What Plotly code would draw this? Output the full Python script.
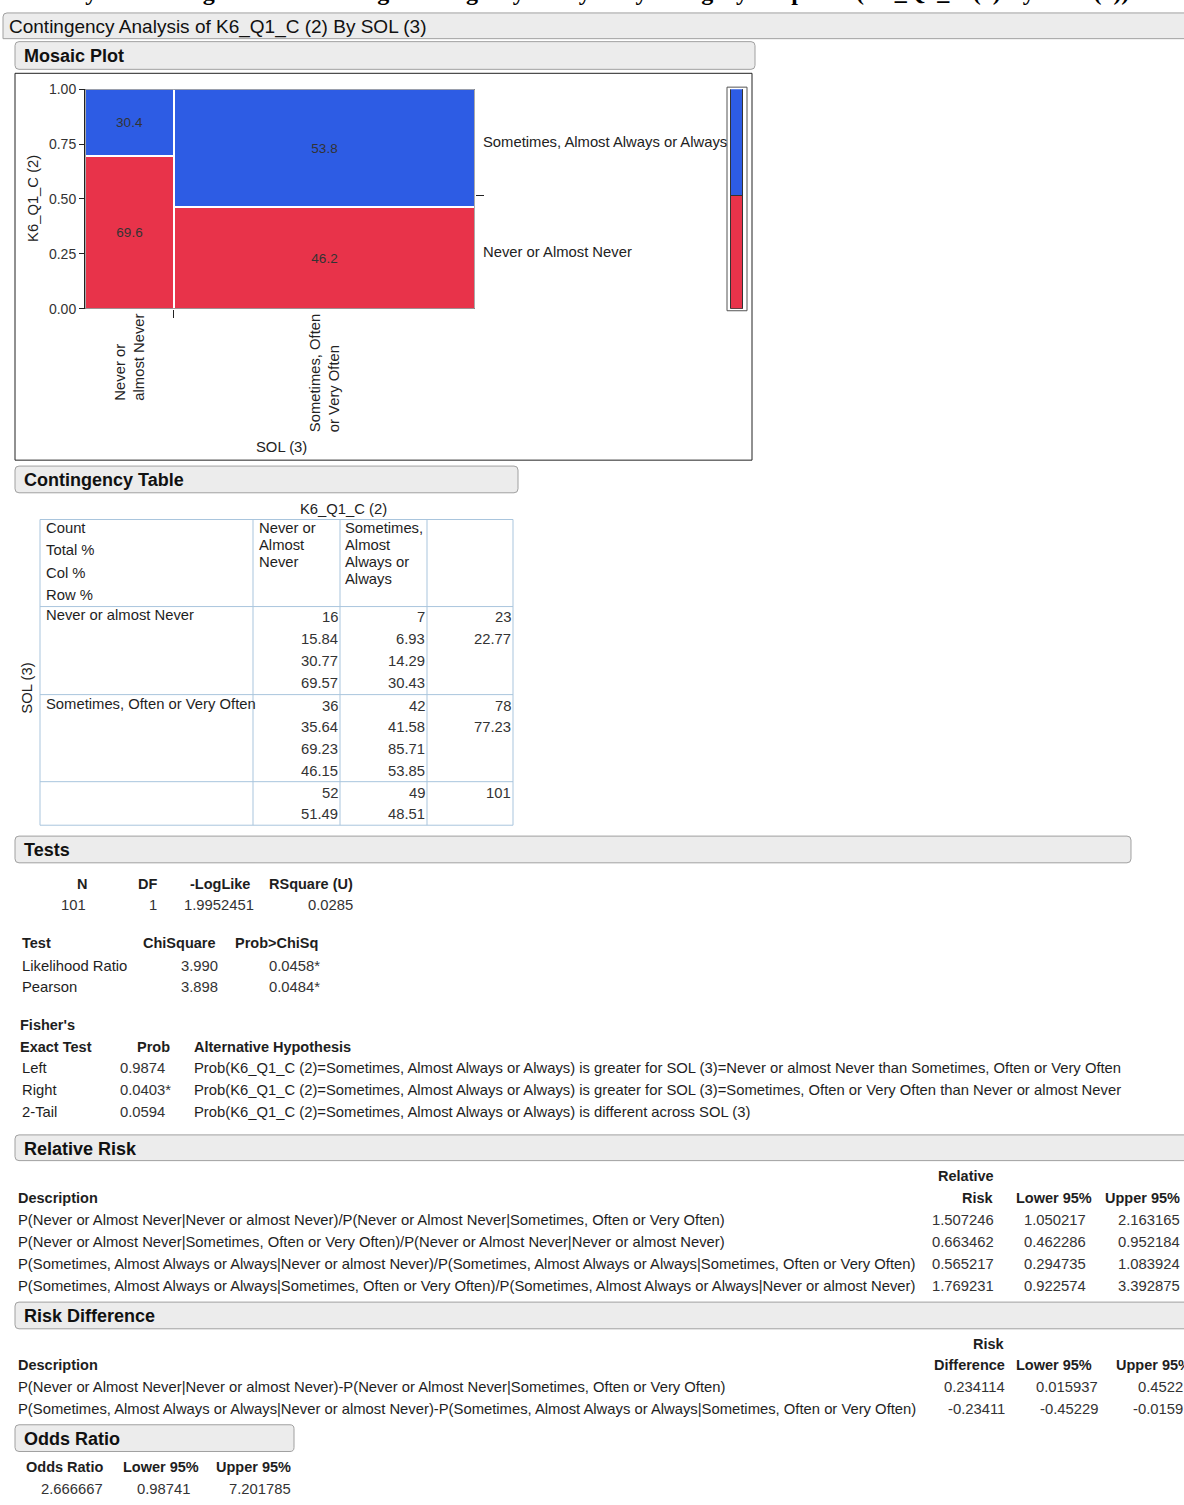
import plotly.graph_objects as go

W, H = 1184, 1505
FONT = "Liberation Sans, Arial, sans-serif"
SERIF = "Liberation Serif, Times New Roman, serif"

# ---------------- data ----------------
sol_levels = ["Never or almost Never", "Sometimes, Often or Very Often"]
sol_axis_labels = ["Never or<br>almost Never", "Sometimes, Often<br>or Very Often"]
k6_levels = ["Never or Almost Never", "Sometimes, Almost Always or Always"]
k6_header_lines = [["Never or", "Almost", "Never"], ["Sometimes,", "Almost", "Always or", "Always"]]
sol_totals = [23, 78]
mosaic_never_pct = [69.6, 46.2]
mosaic_some_pct = [30.4, 53.8]
k6_margin_pct = [51.49, 48.51]

counts = [[16, 7], [36, 42]]
total_pct = [["15.84", "6.93"], ["35.64", "41.58"]]
col_pct = [["30.77", "14.29"], ["69.23", "85.71"]]
row_pct = [["69.57", "30.43"], ["46.15", "53.85"]]
row_totals = [23, 78]
row_total_pct = ["22.77", "77.23"]
col_totals = [52, 49]
col_total_pct = ["51.49", "48.51"]
grand_total = 101

tests_hdr = ["N", "DF", "-LogLike", "RSquare (U)"]
tests_vals = ["101", "1", "1.9952451", "0.0285"]
chi_tests = ["Likelihood Ratio", "Pearson"]
chi_sq = ["3.990", "3.898"]
chi_p = ["0.0458*", "0.0484*"]
fisher_names = ["Left", "Right", "2-Tail"]
fisher_p = ["0.9874", "0.0403*", "0.0594"]
fisher_alt = [
    "Prob(K6_Q1_C (2)=Sometimes, Almost Always or Always) is greater for SOL (3)=Never or almost Never than Sometimes, Often or Very Often",
    "Prob(K6_Q1_C (2)=Sometimes, Almost Always or Always) is greater for SOL (3)=Sometimes, Often or Very Often than Never or almost Never",
    "Prob(K6_Q1_C (2)=Sometimes, Almost Always or Always) is different across SOL (3)",
]
rr_desc = [
    "P(Never or Almost Never|Never or almost Never)/P(Never or Almost Never|Sometimes, Often or Very Often)",
    "P(Never or Almost Never|Sometimes, Often or Very Often)/P(Never or Almost Never|Never or almost Never)",
    "P(Sometimes, Almost Always or Always|Never or almost Never)/P(Sometimes, Almost Always or Always|Sometimes, Often or Very Often)",
    "P(Sometimes, Almost Always or Always|Sometimes, Often or Very Often)/P(Sometimes, Almost Always or Always|Never or almost Never)",
]
rr_val = ["1.507246", "0.663462", "0.565217", "1.769231"]
rr_low = ["1.050217", "0.462286", "0.294735", "0.922574"]
rr_up = ["2.163165", "0.952184", "1.083924", "3.392875"]
rd_desc = [
    "P(Never or Almost Never|Never or almost Never)-P(Never or Almost Never|Sometimes, Often or Very Often)",
    "P(Sometimes, Almost Always or Always|Never or almost Never)-P(Sometimes, Almost Always or Always|Sometimes, Often or Very Often)",
]
rd_val = ["0.234114", "-0.23411"]
rd_low = ["0.015937", "-0.45229"]
rd_up = ["0.4522", "-0.0159"]
or_hdr = ["Odds Ratio", "Lower 95%", "Upper 95%"]
or_vals = ["2.666667", "0.98741", "7.201785"]

RED = "#e8334a"
BLUE = "#2d5ce4"
TXT = "#1e1e1e"
NUM = "#333333"
FS = 14.8      # body text
FB = 14.5      # bold column headers
FH = 18        # section headers

# ---------------- helpers ----------------
ann = []
shapes = []


def px(x):
    return x / W


def py(y):
    return 1 - y / H


def T(x, y, s, anchor="left", size=FS, bold=False, color=TXT, family=FONT, angle=0, yanchor="middle", align="left"):
    ann.append(dict(x=px(x), y=py(y), xref="paper", yref="paper",
                    text=f"<b>{s}</b>" if bold else s, showarrow=False,
                    xanchor=anchor, yanchor=yanchor, align=align, textangle=angle,
                    borderpad=0,
                    font=dict(size=size, color=color, family=family)))


def P(x, y):
    return f"{px(x):.6f},{py(y):.6f}"


def header(x0, y0, x1, y1, title, r=4):
    path = (f"M {P(x0 + r, y0)} L {P(x1 - r, y0)} Q {P(x1, y0)} {P(x1, y0 + r)} "
            f"L {P(x1, y1 - r)} Q {P(x1, y1)} {P(x1 - r, y1)} L {P(x0 + r, y1)} "
            f"Q {P(x0, y1)} {P(x0, y1 - r)} L {P(x0, y0 + r)} Q {P(x0, y0)} {P(x0 + r, y0)} Z")
    shapes.append(dict(type="path", path=path, xref="paper", yref="paper",
                       fillcolor="#ececec", line=dict(color="#a0a0a0", width=1), layer="below"))
    T(x0 + 8, (y0 + y1) / 2 + 1, title, size=FH, bold=True, color="#111")


def line(x0, y0, x1, y1, color="#a9c5dd", width=1):
    shapes.append(dict(type="line", xref="paper", yref="paper", x0=px(x0), y0=py(y0),
                       x1=px(x1), y1=py(y1), line=dict(color=color, width=width)))


# ---------------- top (cut-off) title ----------------
T(1130, -2, "Analysis of Categorical Data using Contingency Analysis by Category Response (K6_Q1_C (2) By SOL (3))",
  anchor="right", size=24, bold=True, color="#000", family=SERIF, yanchor="bottom")

# main outline header
path = (f"M {P(3, 31)} L {P(3, 9)} Q {P(3, 5)} {P(7, 5)} L {P(1190, 5)} L {P(1190, 31)} Z")
shapes.append(dict(type="path", path=path, xref="paper", yref="paper",
                   fillcolor="#ececec", line=dict(color="#a0a0a0", width=1), layer="below"))
T(8, 19, "Contingency Analysis of K6_Q1_C (2) By SOL (3)", size=19, color="#111")

# ---------------- Mosaic plot ----------------
header(15, 34, 755, 62, "Mosaic Plot")
shapes.append(dict(type="rect", xref="paper", yref="paper", x0=px(15), y0=py(457), x1=px(752), y1=py(66),
                   line=dict(color="#222", width=1), layer="below"))

left_edges = [sum(sol_totals[:i]) for i in range(len(sol_totals))]
centers = [l + w / 2 for l, w in zip(left_edges, sol_totals)]
N = sum(sol_totals)

fig = go.Figure()
fig.add_trace(go.Bar(x=centers, y=[v / 100 for v in mosaic_never_pct], width=sol_totals,
                     marker=dict(color=RED, line=dict(color="white", width=2)),
                     text=[f"{v:.1f}" for v in mosaic_never_pct], textposition="inside",
                     insidetextanchor="middle", textfont=dict(color="#333", size=13.5, family=FONT),
                     name=k6_levels[0], showlegend=False, hoverinfo="skip", xaxis="x", yaxis="y"))
fig.add_trace(go.Bar(x=centers, y=[v / 100 for v in mosaic_some_pct], width=sol_totals,
                     marker=dict(color=BLUE, line=dict(color="white", width=2)),
                     text=[f"{v:.1f}" for v in mosaic_some_pct], textposition="inside",
                     insidetextanchor="middle", textfont=dict(color="#333", size=13.5, family=FONT),
                     name=k6_levels[1], showlegend=False, hoverinfo="skip", xaxis="x", yaxis="y"))
# marginal bar
fig.add_trace(go.Bar(x=[0.5], y=[k6_margin_pct[0] / 100], width=[0.8],
                     marker=dict(color=RED, line=dict(color="#333", width=1)),
                     showlegend=False, hoverinfo="skip", xaxis="x2", yaxis="y"))
fig.add_trace(go.Bar(x=[0.5], y=[k6_margin_pct[1] / 100], width=[0.8],
                     marker=dict(color=BLUE, line=dict(color="#333", width=1)),
                     showlegend=False, hoverinfo="skip", xaxis="x2", yaxis="y"))
# right axis tick carrier
fig.add_trace(go.Scatter(x=[None], y=[None], xaxis="x", yaxis="y2", showlegend=False, hoverinfo="skip"))

# outer frames
shapes.append(dict(type="rect", xref="x", yref="y", x0=0, x1=N, y0=0, y1=1,
                   line=dict(color="#555", width=1), layer="above"))
shapes.append(dict(type="rect", xref="paper", yref="paper", x0=px(727), x1=px(747), y0=py(306), y1=py(80),
                   line=dict(color="#555", width=1), layer="above"))

# category labels
for c, lab in zip(centers, sol_axis_labels):
    ann.append(dict(x=c, y=py(307), xref="x", yref="paper", text=lab, showarrow=False,
                    textangle=-90, xanchor="center", yanchor="top", align="left",
                    font=dict(size=FS, color="#222", family=FONT)))
m0 = k6_margin_pct[0] / 100
m1 = k6_margin_pct[1] / 100
for yy, lab in zip([m0 / 2, m0 + m1 / 2], k6_levels):
    ann.append(dict(x=px(481), y=yy, xref="paper", yref="y", text=lab, showarrow=False,
                    xanchor="left", yanchor="middle", font=dict(size=FS, color="#222", family=FONT)))
T(281, 444, "SOL (3)", anchor="center", color="#222")
T(33, 193, "K6_Q1_C (2)", anchor="center", color="#222", angle=-90)

# ---------------- Contingency table ----------------
header(15, 463, 518, 490, "Contingency Table")
T(343, 506, "K6_Q1_C (2)", anchor="center", color="#222")
T(27, 688, "SOL (3)", anchor="center", color="#222", angle=-90)
for xv in [40, 253, 340, 427, 513]:
    line(xv, 517, xv, 826)
for yv in [517, 605, 694, 782, 826]:
    line(40, yv, 513, yv)
for i, s in enumerate(["Count", "Total %", "Col %", "Row %"]):
    T(45, 526 + i * 22.3, s)
for cx, lines in zip([258, 344], k6_header_lines):
    for k, s in enumerate(lines):
        T(cx, 526 + k * 17, s)
col_right = [339, 426, 512]
row_top = [616, 705]
for r in range(2):
    T(45, row_top[r] - 2, sol_levels[r])
    for c in range(2):
        vals = [str(counts[r][c]), total_pct[r][c], col_pct[r][c], row_pct[r][c]]
        for k, v in enumerate(vals):
            T(col_right[c], row_top[r] + k * 22.2, v, anchor="right", color=NUM)
    T(col_right[2], row_top[r], str(row_totals[r]), anchor="right", color=NUM)
    T(col_right[2], row_top[r] + 22.2, row_total_pct[r], anchor="right", color=NUM)
for c in range(2):
    T(col_right[c], 793, str(col_totals[c]), anchor="right", color=NUM)
    T(col_right[c], 815, col_total_pct[c], anchor="right", color=NUM)
T(col_right[2], 793, str(grand_total), anchor="right", color=NUM)

# ---------------- Tests ----------------
header(15, 837, 1131, 864, "Tests")
hdr_right = [88, 158, 251, 354]
val_right = [87, 158, 255, 354]
for h, v, xr, xv in zip(tests_hdr, tests_vals, hdr_right, val_right):
    T(xr, 885, h, anchor="right", size=FB, bold=True)
    T(xv, 907, v, anchor="right", color=NUM)
T(21, 945, "Test", size=FB, bold=True)
T(217, 945, "ChiSquare", anchor="right", size=FB, bold=True)
T(319, 945, "Prob&gt;ChiSq", anchor="right", size=FB, bold=True)
for i in range(2):
    T(21, 968 + i * 22, chi_tests[i])
    T(219, 968 + i * 22, chi_sq[i], anchor="right", color=NUM)
    T(268, 968 + i * 22, chi_p[i], color=NUM)
T(19, 1028, "Fisher's", size=FB, bold=True)
T(19, 1050, "Exact Test", size=FB, bold=True)
T(171, 1050, "Prob", anchor="right", size=FB, bold=True)
T(193, 1050, "Alternative Hypothesis", size=FB, bold=True)
for i in range(3):
    yy = 1071 + i * 22.5
    T(21, yy, fisher_names[i])
    T(119, yy, fisher_p[i], color=NUM)
    T(193, yy, fisher_alt[i])

# ---------------- Relative Risk ----------------
header(15, 1139, 1195, 1165, "Relative Risk")
T(995, 1181, "Relative", anchor="right", size=FB, bold=True)
T(995, 1203, "Risk", anchor="right", size=FB, bold=True)
T(1093, 1203, "Lower 95%", anchor="right", size=FB, bold=True)
T(1181, 1203, "Upper 95%", anchor="right", size=FB, bold=True)
T(17, 1203, "Description", size=FB, bold=True)
for i in range(4):
    yy = 1225 + i * 22.4
    T(17, yy, rr_desc[i])
    T(995, yy, rr_val[i], anchor="right", color=NUM)
    T(1087, yy, rr_low[i], anchor="right", color=NUM)
    T(1181, yy, rr_up[i], anchor="right", color=NUM)

# ---------------- Risk Difference ----------------
header(15, 1308, 1195, 1335, "Risk Difference")
T(1006, 1350, "Risk", anchor="right", size=FB, bold=True)
T(1006, 1372, "Difference", anchor="right", size=FB, bold=True)
T(1093, 1372, "Lower 95%", anchor="right", size=FB, bold=True)
T(1115, 1372, "Upper 95%", size=FB, bold=True)
T(17, 1372, "Description", size=FB, bold=True)
for i in range(2):
    yy = 1394 + i * 22
    T(17, yy, rd_desc[i])
    T(1006, yy, rd_val[i], anchor="right", color=NUM)
    T(1099, yy, rd_low[i], anchor="right", color=NUM)
    T(1184, yy, rd_up[i], anchor="right", color=NUM)

# ---------------- Odds Ratio ----------------
header(15, 1432, 294, 1459, "Odds Ratio")
or_right = [104, 200, 292]
or_vright = [104, 192, 292]
for h, v, xr, xv in zip(or_hdr, or_vals, or_right, or_vright):
    T(xr, 1475, h, anchor="right", size=FB, bold=True)
    T(xv, 1497, v, anchor="right", color=NUM)

# ---------------- layout ----------------
fig.update_layout(
    width=W, height=H, margin=dict(l=0, r=0, t=0, b=0, pad=0),
    paper_bgcolor="white", plot_bgcolor="white", barmode="stack", bargap=0,
    showlegend=False, font=dict(family=FONT, color="#222"),
    xaxis=dict(domain=[px(85), px(475)], range=[0, N], anchor="y", showgrid=False, zeroline=False,
               showline=False, tickvals=[sol_totals[0]], ticktext=[""], ticks="outside", ticklen=8,
               tickcolor="#222", fixedrange=True),
    xaxis2=dict(domain=[px(729), px(745)], range=[0, 1], anchor="y", showgrid=False, zeroline=False,
                showline=False, showticklabels=False, ticks="", fixedrange=True),
    yaxis=dict(domain=[py(304), py(82)], range=[0, 1], anchor="x", showgrid=False, zeroline=False,
               showline=True, linecolor="#222", linewidth=1, ticks="outside", ticklen=5, tickcolor="#222",
               tickvals=[0, 0.25, 0.5, 0.75, 1], tickformat=".2f",
               tickfont=dict(size=14, color="#333", family=FONT), fixedrange=True),
    yaxis2=dict(overlaying="y", side="right", anchor="x", range=[0, 1], showgrid=False, zeroline=False,
                showline=False, tickvals=[k6_margin_pct[0] / 100], ticktext=[""], ticks="outside",
                ticklen=8, tickcolor="#222", fixedrange=True),
    annotations=ann, shapes=shapes,
)

fig.write_html("out.html")
